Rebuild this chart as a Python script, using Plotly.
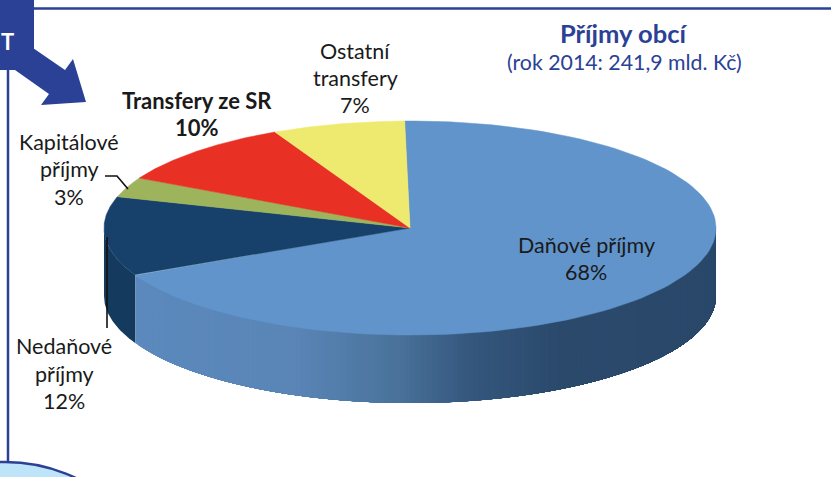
import numpy as np
import plotly.graph_objects as go

categories = ["Daňové příjmy", "Nedaňové příjmy", "Kapitálové příjmy", "Transfery ze SR", "Ostatní transfery"]
values = [68, 12, 3, 10, 7]
top_colors = ["#6094cb", "#17406a", "#9db35c", "#e93024", "#eeea70"]
title_text = "Příjmy obcí"
subtitle_text = "(rok 2014: 241,9 mld. Kč)"

W, H = 831, 477
CX, CY, RX, RY, DEPTH = 410, 228, 306, 107, 68
START = -1.0
NAVY = "#2a4196"
INK = "#1a1a1a"
FONT = "Lato"

wall_stops_x = [105, 135, 300, 400, 470, 560, 717]
wall_stops_rgb = [(0x5c, 0x8a, 0xbe), (0x5c, 0x8a, 0xbe), (0x5a, 0x85, 0xb6), (0x4a, 0x72, 0x9b),
                  (0x36, 0x58, 0x7f), (0x2b, 0x4a, 0x6c), (0x29, 0x48, 0x6a)]


def px(t):
    return CX + RX * np.sin(np.radians(t))


def py(t):
    return CY - RY * np.cos(np.radians(t))


def wall_color(x):
    return "rgb(%d,%d,%d)" % tuple(np.interp(x, wall_stops_x, [c[i] for c in wall_stops_rgb]) for i in range(3))


def poly(xs, ys, color, width=0.0):
    return go.Scatter(x=xs, y=ys, mode="lines", fill="toself", fillcolor=color,
                      line=dict(color=color, width=width), hoverinfo="skip", showlegend=False)


fig = go.Figure()

edges = START + np.cumsum([0] + values) * 3.6

# side walls, visible from 90 to 270 degrees; each step paints through to the end
# of its wall so that neighbouring steps leave no seams
for i in [1, 0]:
    lo, hi = max(edges[i], 90), min(edges[i + 1], 270)
    if hi <= lo:
        continue
    steps = np.linspace(lo, hi, int((hi - lo) / 1.0) + 2)
    if i == 0:
        starts = steps[:-1][::-1]      # paint from the far left towards the right
        for a in starts:
            ts = np.linspace(lo, a + (steps[1] - steps[0]), 80)
            xs = np.concatenate([px(ts), px(ts[::-1])])
            ys = np.concatenate([py(ts), py(ts[::-1]) + DEPTH])
            fig.add_trace(poly(xs, ys, wall_color(px(a))))
    else:
        ts = np.linspace(lo, hi, 40)
        xs = np.concatenate([px(ts), px(ts[::-1])])
        ys = np.concatenate([py(ts), py(ts[::-1]) + DEPTH])
        fig.add_trace(poly(xs, ys, "#143a5e"))

# top faces
for i, cat in enumerate(categories):
    ts = np.linspace(edges[i], edges[i + 1], 120)
    xs = np.concatenate([[CX], px(ts), [CX]])
    ys = np.concatenate([[CY], py(ts), [CY]])
    tr = poly(xs, ys, top_colors[i], width=0.5)
    tr.name = cat
    fig.add_trace(tr)

# leader lines
fig.add_trace(go.Scatter(x=[105, 117, 128], y=[176, 176, 189], mode="lines",
                         line=dict(color="#111111", width=1.6), hoverinfo="skip", showlegend=False))
fig.add_trace(go.Scatter(x=[107, 107], y=[237, 328], mode="lines",
                         line=dict(color="#111111", width=1.6), hoverinfo="skip", showlegend=False))

shapes = [
    dict(type="line", x0=34, x1=W, y0=8.5, y1=8.5, line=dict(color=NAVY, width=2.5), layer="below"),
    dict(type="line", x0=8, x1=8, y0=65, y1=465, line=dict(color=NAVY, width=2.5), layer="below"),
    dict(type="circle", x0=-160, x1=170, y0=462, y1=792, fillcolor="#bde4f8", line=dict(color=NAVY, width=2.5), layer="below"),
    dict(type="rect", x0=-2, x1=34, y0=-2, y1=70, fillcolor=NAVY, line=dict(width=0), layer="above"),
    dict(type="path", path="M 33 48 L 65 70 L 73 59 L 86 102 L 41 105 L 49 94 L 15 70 Z",
         fillcolor=NAVY, line=dict(width=0), layer="above"),
]


def note(x, y, text, size=21.5, color=INK, bold=False):
    return dict(x=x, y=y, text=f"<b>{text}</b>" if bold else text, showarrow=False, xanchor="center", yanchor="middle",
                align="center", font=dict(family=FONT, size=size, color=color))


annotations = [
    note(623, 33, title_text, size=25.5, color=NAVY, bold=True),
    note(624, 62, subtitle_text, size=21.3, color=NAVY),
    note(7, 41, "T", size=22, color="white", bold=True),
    note(586, 245, "Daňové příjmy"),
    note(586, 272, "68%"),
    note(355, 51, "Ostatní"),
    note(355, 78, "transfery"),
    note(355, 105, "7%"),
    note(197, 100, "Transfery ze SR", size=22, bold=True),
    note(197, 127, "10%", size=22, bold=True),
    note(69, 142, "Kapitálové"),
    note(69, 169, "příjmy"),
    note(69, 197, "3%"),
    note(64, 346, "Nedaňové"),
    note(64, 374, "příjmy"),
    note(64, 401, "12%"),
]

fig.update_layout(
    width=W, height=H, margin=dict(l=0, r=0, t=0, b=0),
    paper_bgcolor="white", plot_bgcolor="white", showlegend=False,
    xaxis=dict(range=[0, W], visible=False, fixedrange=True),
    yaxis=dict(range=[H, 0], visible=False, fixedrange=True),
    shapes=shapes, annotations=annotations,
)
fig.write_html("out.html", config=dict(displayModeBar=False),
               post_script="document.body.style.margin='0';document.body.style.overflow='hidden';")
